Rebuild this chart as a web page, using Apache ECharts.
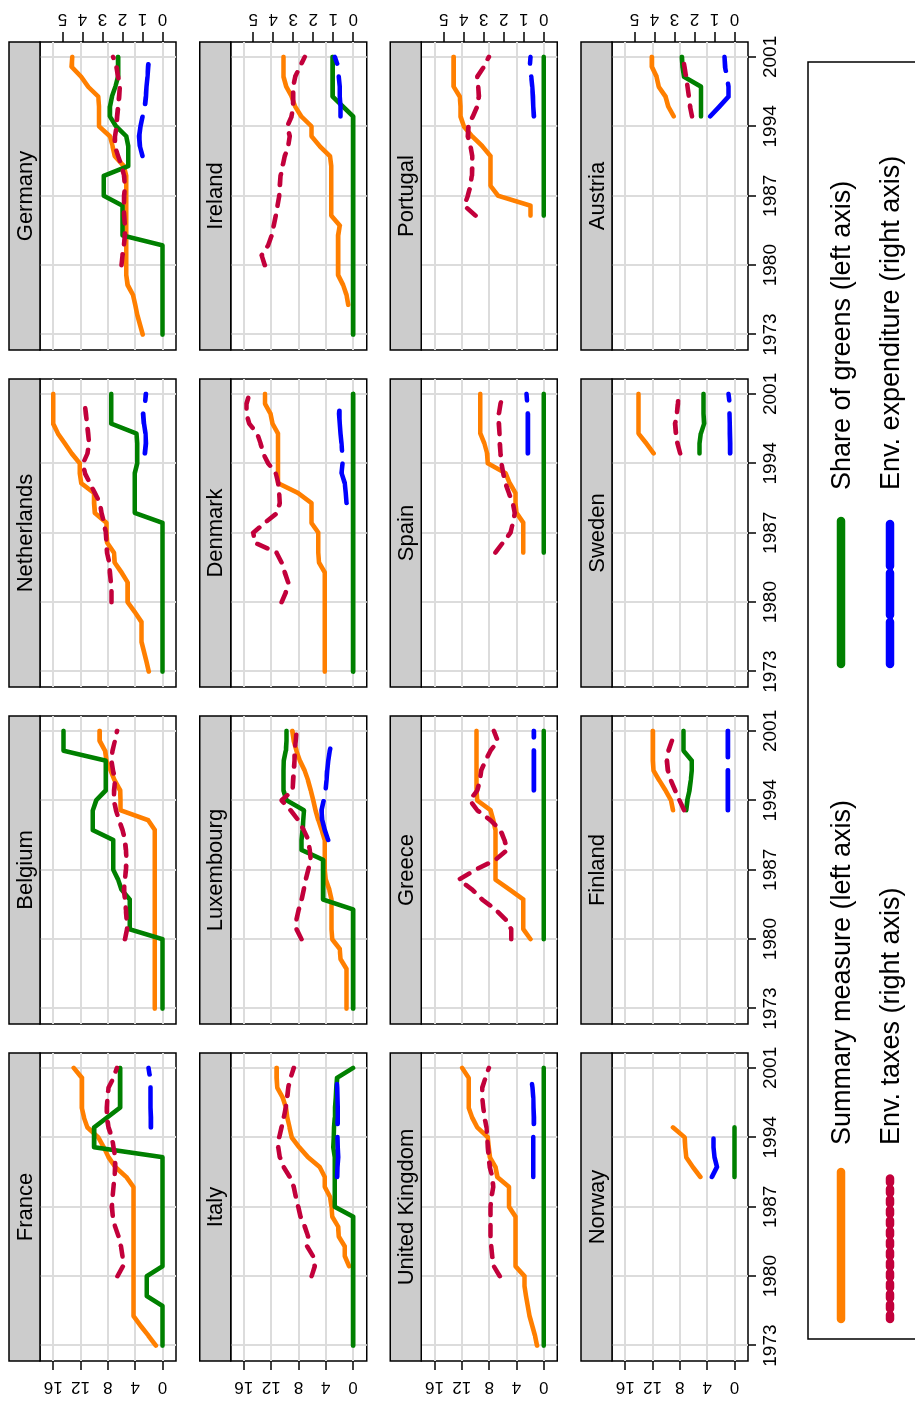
<!DOCTYPE html>
<html><head><meta charset="utf-8">
<script src="https://cdn.jsdelivr.net/npm/echarts@6/dist/echarts.min.js"></script>
<style>
html,body{margin:0;padding:0;width:915px;height:1401px;overflow:hidden;background:#fff}
#chart{position:absolute;left:0;top:0;width:1401px;height:915px;transform-origin:0 0;transform:translate(0px,1401px) rotate(-90deg);}
</style></head><body><div id="chart"></div>
<script>
const N = null;
const YEARS = [1973,1974,1975,1976,1977,1978,1979,1980,1981,1982,1983,1984,1985,1986,1987,1988,1989,1990,1991,1992,1993,1994,1995,1996,1997,1998,1999,2000,2001];
const YEAR_TICKS = [1973,1980,1987,1994,2001];
const LEFT_TICKS = [0,4,8,12,16];
const RIGHT_TICKS = [0,1,2,3,4,5];
const COUNTRIES = ['France','Belgium','Netherlands','Germany','Italy','Luxembourg','Denmark','Ireland','United Kingdom','Greece','Spain','Portugal','Norway','Finland','Sweden','Austria'];
const SERIES_NAMES = ['Summary measure (left axis)','Share of greens (left axis)','Env. taxes (right axis)','Env. expenditure (right axis)'];

// France
const fr_sum = [0.98,2.05,3.2,4.25,4.25,4.25,4.25,4.25,4.25,4.25,4.25,4.25,4.25,4.25,4.25,4.25,4.25,5.3,6.9,7.9,8.6,9.4,11.0,11.5,11.8,11.8,11.8,11.8,13.0];
const fr_grn = [0,0,0,0,0,2.3,2.3,2.3,0,0,0,0,0,0,0,0,0,0,0,0,10.0,10.0,10.0,8.1,6.2,6.2,6.2,6.2,6.2];
const fr_tax = [N,N,N,N,N,N,N,2.25,1.98,2.0,2.08,2.2,2.37,2.48,2.53,2.5,2.45,2.4,2.37,2.37,2.45,2.53,2.7,2.78,2.78,2.75,2.7,2.45,2.28];
const fr_exp = [N,N,N,N,N,N,N,N,N,N,N,N,N,N,N,N,N,N,N,N,N,N,0.58,0.58,0.6,0.6,0.6,0.62,0.7];
// Belgium
const be_sum = [1.12,1.12,1.12,1.12,1.12,1.12,1.12,1.12,1.12,1.12,1.12,1.12,1.12,1.12,1.12,1.12,1.12,1.12,1.12,2.1,6.15,6.15,6.2,7.0,7.6,8.2,8.4,9.2,9.2];
const be_grn = [0,0,0,0,0,0,0,0,4.8,4.8,4.8,4.8,6.0,6.5,7.2,7.2,7.2,7.2,10.2,10.2,10.2,9.7,8.3,8.3,8.3,8.3,14.5,14.5,14.5];
const be_tax = [N,N,N,N,N,N,N,1.88,1.77,1.8,1.83,1.88,1.93,1.88,1.83,1.8,1.83,1.88,2.0,2.17,2.33,2.43,2.42,2.38,2.47,2.55,2.5,2.38,2.27];
const be_exp = [N,N,N,N,N,N,N,N,N,N,N,N,N,N,N,N,N,N,N,N,N,N,N,N,N,N,N,N,N];
// Netherlands
const nl_sum = [2.0,2.34,2.7,3.07,3.07,3.07,4.05,5.1,5.1,5.1,6.0,7.0,7.1,8.1,8.2,8.2,9.9,10.0,10.0,11.9,12.1,12.1,13.3,14.3,15.3,16.0,16.0,16.0,16.0];
const nl_grn = [0,0,0,0,0,0,0,0,0,0,0,0,0,0,0,0,4.05,4.05,4.05,4.05,4.05,3.7,3.7,3.7,3.8,7.5,7.5,7.5,7.5];
const nl_tax = [N,N,N,N,N,N,N,2.55,2.55,2.58,2.63,2.67,2.77,2.8,2.83,2.93,3.05,3.13,3.38,3.63,3.88,3.97,3.75,3.67,3.72,3.77,3.83,3.88,N];
const nl_exp = [N,N,N,N,N,N,N,N,N,N,N,N,N,N,N,N,N,N,N,N,N,N,0.88,0.83,0.85,0.93,0.97,0.88,0.83];
// Germany
const de_sum = [2.9,3.3,3.7,4.0,4.3,5.1,5.3,5.3,5.3,5.3,5.3,5.3,5.3,5.3,5.3,5.3,5.3,5.66,7.0,7.3,7.7,9.3,9.3,9.3,9.4,10.9,11.9,13.3,13.2];
const de_grn = [0,0,0,0,0,0,0,0,0,0,5.85,5.85,5.85,5.85,8.6,8.6,8.6,5.0,5.0,5.0,5.3,6.8,7.7,7.7,7.4,6.9,6.5,6.5,6.5];
const de_tax = [N,N,N,N,N,N,N,2.05,2.0,1.93,1.88,1.88,1.92,1.93,1.92,1.88,1.92,2.05,2.22,2.38,2.38,2.3,2.27,2.22,2.17,2.13,2.22,2.3,2.47];
const de_exp = [N,N,N,N,N,N,N,N,N,N,N,N,N,N,N,N,N,N,1.0,1.13,1.17,1.1,1.0,0.88,0.83,0.8,0.75,0.72,0.67];
// Italy
const it_sum = [N,N,N,N,N,N,N,N,0.59,1.22,1.22,2.1,2.2,3.07,3.17,3.4,4.15,4.15,4.9,6.6,7.9,9.0,9.3,9.65,9.85,10.3,11.1,11.2,11.2];
const it_grn = [0,0,0,0,0,0,0,0,0,0,0,0,0,0,2.7,2.7,2.7,2.7,2.7,2.7,2.9,2.85,2.8,2.7,2.65,2.55,2.45,2.35,0];
const it_tax = [N,N,N,N,N,N,N,2.08,1.92,2.0,2.3,2.25,2.42,2.63,2.75,2.87,2.97,3.17,3.47,3.67,3.75,3.7,3.58,3.47,3.37,3.3,3.25,3.13,2.97];
const it_exp = [N,N,N,N,N,N,N,N,N,N,N,N,N,N,N,N,N,0.8,0.78,0.75,0.77,0.78,0.78,0.77,0.77,0.78,0.8,0.82,N];
// Luxembourg
const lu_sum = [0.98,0.98,0.98,0.98,0.98,1.85,1.95,3.07,3.17,3.17,3.17,3.17,3.5,4.0,4.15,4.15,4.15,4.15,4.6,5.1,5.5,5.85,6.2,6.6,7.1,7.8,8.3,8.7,8.9];
const lu_grn = [0,0,0,0,0,0,0,0,0,0,0,4.4,4.4,4.4,4.4,4.4,7.56,7.56,7.4,7.3,7.2,9.75,10.2,10.2,10.2,10.15,9.85,9.75,9.75];
const lu_tax = [N,N,N,N,N,N,N,2.58,2.83,2.83,2.72,2.58,2.47,2.37,2.25,2.13,2.17,2.25,2.47,2.75,3.13,3.58,3.03,3.0,2.97,2.93,2.92,2.87,2.83];
const lu_exp = [N,N,N,N,N,N,N,N,N,N,N,N,N,N,N,N,N,1.25,1.42,1.55,1.58,1.47,1.38,1.33,1.3,1.25,1.17,1.08,N];
// Denmark
const dk_sum = [4.15,4.15,4.15,4.15,4.15,4.15,4.15,4.15,4.15,4.15,4.15,5.0,5.1,5.1,5.1,6.1,6.1,6.1,8.05,11.0,11.0,11.0,11.0,11.0,11.0,11.8,12.1,12.9,12.9];
const dk_grn = [0,0,0,0,0,0,0,0,0,0,0,0,0,0,0,0,0,0,0,0,0,0,0,0,0,0,0,0,0];
const dk_tax = [N,N,N,N,N,N,N,3.58,3.37,3.25,3.42,3.58,3.83,4.92,5.0,4.42,3.8,3.67,3.7,3.75,3.87,4.25,4.5,4.63,4.8,5.2,5.33,5.33,5.2];
const dk_exp = [N,N,N,N,N,N,N,N,N,N,N,N,N,N,N,N,N,0.33,0.37,0.42,0.58,0.53,0.55,0.58,0.63,0.67,0.7,0.67,N];
// Ireland
const ie_sum = [N,N,N,0.73,0.98,1.46,2.2,2.2,2.2,2.2,2.2,1.95,3.2,3.2,3.2,3.2,3.2,3.2,3.4,4.9,6.1,6.1,7.6,8.5,9.0,9.8,10.2,10.2,10.2];
const ie_grn = [0,0,0,0,0,0,0,0,0,0,0,0,0,0,0,0,0,0,0,0,0,0,0,1.5,3.0,3.0,3.0,3.0,3.0];
const ie_tax = [N,N,N,N,N,N,N,4.42,4.58,4.25,4.08,3.97,3.87,3.78,3.7,3.67,3.63,3.53,3.42,3.25,3.17,3.3,3.08,3.0,3.0,3.0,2.9,2.67,2.42];
const ie_exp = [N,N,N,N,N,N,N,N,N,N,N,N,N,N,N,N,N,N,N,N,N,N,0.63,0.63,0.67,0.67,0.72,0.75,0.92];
// United Kingdom
const uk_sum = [0.98,1.3,1.7,2.1,2.34,2.6,2.83,2.83,4.15,4.15,4.15,4.15,4.15,4.15,5.1,5.1,5.1,6.8,7.07,7.9,8.05,8.2,9.75,10.5,11.0,11.0,11.0,11.0,11.95];
const uk_grn = [0,0,0,0,0,0,0,0,0,0,0,0,0,0,0,0,0,0,0,0,0,0,0,0,0,0,0,0,0];
const uk_tax = [N,N,N,N,N,N,N,2.2,2.5,2.58,2.63,2.67,2.67,2.67,2.67,2.62,2.53,2.58,2.7,2.75,2.8,2.83,2.87,2.97,3.03,3.08,3.08,2.92,2.75];
const uk_exp = [N,N,N,N,N,N,N,N,N,N,N,N,N,N,N,N,N,0.53,0.53,0.53,0.53,0.53,0.5,0.5,0.52,0.53,0.57,0.62,N];
// Greece
const gr_sum = [N,N,N,N,N,N,N,1.95,3.0,3.0,3.0,3.0,5.0,7.07,7.07,7.07,7.07,7.07,7.07,7.4,7.8,9.75,9.85,9.85,9.85,9.85,9.85,9.85,9.85];
const gr_grn = [N,N,N,N,N,N,N,0,0,0,0,0,0,0,0,0,0,0,0,0,0,0,0,0,0,0,0,0,0];
const gr_tax = [N,N,N,N,N,N,N,1.63,1.63,1.92,2.42,3.08,3.58,4.25,3.42,2.42,1.83,1.97,2.17,2.67,3.33,3.7,3.33,3.2,3.13,2.92,2.67,2.3,2.5];
const gr_exp = [N,N,N,N,N,N,N,N,N,N,N,N,N,N,N,N,N,N,N,N,N,N,0.5,0.5,0.5,0.5,0.5,0.5,0.5];
// Spain
const es_sum = [N,N,N,N,N,N,N,N,N,N,N,N,3.0,3.0,3.0,3.0,4.0,4.15,4.15,5.0,5.6,8.2,8.3,8.7,9.3,9.3,9.3,9.3,9.3];
const es_grn = [N,N,N,N,N,N,N,N,N,N,N,N,0,0,0,0,0,0,0,0,0,0,0,0,0,0,0,0,0];
const es_tax = [N,N,N,N,N,N,N,N,N,N,N,N,2.42,2.05,1.67,1.55,1.45,1.55,1.75,1.92,2.03,2.12,2.17,2.2,2.22,2.25,2.25,2.17,2.03];
const es_exp = [N,N,N,N,N,N,N,N,N,N,N,N,N,N,N,N,N,N,N,N,N,N,0.8,0.8,0.8,0.8,0.8,0.83,0.87];
// Portugal
const pt_sum = [N,N,N,N,N,N,N,N,N,N,N,N,1.95,1.95,6.7,7.8,7.8,7.8,7.8,9.0,10.5,11.7,12.2,12.2,12.3,13.2,13.2,13.2,13.2];
const pt_grn = [N,N,N,N,N,N,N,N,N,N,N,N,0,0,0,0,0,0,0,0,0,0,0,0,0,0,0,0,0];
const pt_tax = [N,N,N,N,N,N,N,N,N,N,N,N,3.42,3.97,3.8,3.67,3.6,3.58,3.58,3.67,3.8,3.77,3.55,3.33,3.25,3.28,3.33,3.0,2.75];
const pt_exp = [N,N,N,N,N,N,N,N,N,N,N,N,N,N,N,N,N,N,N,N,N,N,0.5,0.53,0.55,0.58,0.63,0.7,0.67];
// Norway
const no_sum = [N,N,N,N,N,N,N,N,N,N,N,N,N,N,N,N,N,5.0,6.1,7.07,7.2,7.3,9.0,N,N,N,N,N,N];
const no_grn = [N,N,N,N,N,N,N,N,N,N,N,N,N,N,N,N,N,0,0,0,0,0,0,N,N,N,N,N,N];
const no_tax = [N,N,N,N,N,N,N,N,N,N,N,N,N,N,N,N,N,N,N,N,N,N,N,N,N,N,N,N,N];
const no_exp = [N,N,N,N,N,N,N,N,N,N,N,N,N,N,N,N,N,1.13,0.88,1.0,1.05,1.05,1.05,N,N,N,N,N,N];
// Finland
const fi_sum = [N,N,N,N,N,N,N,N,N,N,N,N,N,N,N,N,N,N,N,N,9.0,9.3,10.1,11.0,11.85,11.95,11.95,11.95,11.95];
const fi_grn = [N,N,N,N,N,N,N,N,N,N,N,N,N,N,N,N,N,N,N,N,7.07,6.9,6.6,6.4,6.25,6.25,7.46,7.46,7.46];
const fi_tax = [N,N,N,N,N,N,N,N,N,N,N,N,N,N,N,N,N,N,N,N,2.52,2.75,2.97,3.18,3.33,3.38,3.3,3.13,N];
const fi_exp = [N,N,N,N,N,N,N,N,N,N,N,N,N,N,N,N,N,N,N,N,0.33,0.33,0.33,0.33,0.33,0.33,0.33,0.33,0.33];
// Sweden
const se_sum = [N,N,N,N,N,N,N,N,N,N,N,N,N,N,N,N,N,N,N,N,N,N,11.85,12.9,14.05,14.05,14.05,14.05,14.05];
const se_grn = [N,N,N,N,N,N,N,N,N,N,N,N,N,N,N,N,N,N,N,N,N,N,5.12,5.12,4.93,4.44,4.54,4.54,4.54];
const se_tax = [N,N,N,N,N,N,N,N,N,N,N,N,N,N,N,N,N,N,N,N,N,N,2.72,2.85,2.93,2.97,2.88,2.83,2.8];
const se_exp = [N,N,N,N,N,N,N,N,N,N,N,N,N,N,N,N,N,N,N,N,N,N,0.22,0.22,0.23,0.24,0.25,0.25,0.3];
// Austria
const at_sum = [N,N,N,N,N,N,N,N,N,N,N,N,N,N,N,N,N,N,N,N,N,N,8.9,9.7,10.1,11.1,11.4,12.1,12.1];
const at_grn = [N,N,N,N,N,N,N,N,N,N,N,N,N,N,N,N,N,N,N,N,N,N,4.9,4.9,4.9,4.9,7.4,7.6,7.7];
const at_tax = [N,N,N,N,N,N,N,N,N,N,N,N,N,N,N,N,N,N,N,N,N,N,2.13,2.22,2.28,2.35,2.42,2.5,2.58];
const at_exp = [N,N,N,N,N,N,N,N,N,N,N,N,N,N,N,N,N,N,N,N,N,N,1.22,0.75,0.3,0.3,0.38,0.47,0.5];

const PANEL_DATA = [
  [fr_sum,fr_grn,fr_tax,fr_exp],[be_sum,be_grn,be_tax,be_exp],[nl_sum,nl_grn,nl_tax,nl_exp],[de_sum,de_grn,de_tax,de_exp],
  [it_sum,it_grn,it_tax,it_exp],[lu_sum,lu_grn,lu_tax,lu_exp],[dk_sum,dk_grn,dk_tax,dk_exp],[ie_sum,ie_grn,ie_tax,ie_exp],
  [uk_sum,uk_grn,uk_tax,uk_exp],[gr_sum,gr_grn,gr_tax,gr_exp],[es_sum,es_grn,es_tax,es_exp],[pt_sum,pt_grn,pt_tax,pt_exp],
  [no_sum,no_grn,no_tax,no_exp],[fi_sum,fi_grn,fi_tax,fi_exp],[se_sum,se_grn,se_tax,se_exp],[at_sum,at_grn,at_tax,at_exp]
];

// ---- layout & style ----
const FONT = '"Liberation Sans", Arial, Helvetica, sans-serif';
const L = {colLeft0: 40, colPitch: 337, plotW: 308, rowTop0: 40, rowPitch: 190.67, plotH: 136, stripH: 31};
const X_MIN = 1971.45, X_MAX = 2002.5;
const YL_MIN = -1.98, YL_MAX = 17.93;
const YR_MIN = -0.675, YR_MAX = 6.125;
const GRID_COLOR = '#DCDCDC';
const COLORS = ['#FF7F00', '#008000', '#C2003B', '#0000FF'];
const DASHES = ['solid', 'solid', [11, 10], [40, 13]];
const LEGEND_DASHES = ['solid', 'solid', [4, 6.5], [42, 7]];

const option = {animation: false, backgroundColor: '#fff', grid: [], xAxis: [], yAxis: [], series: [], graphic: []};

COUNTRIES.forEach((name, i) => {
  const r = Math.floor(i / 4), c = i % 4;
  const left = L.colLeft0 + c * L.colPitch;
  const top = L.rowTop0 + r * L.rowPitch;
  option.grid.push({left: left, top: top, width: L.plotW, height: L.plotH, show: true,
    borderColor: '#000', borderWidth: 1.5, backgroundColor: '#fff', containLabel: false, outerBoundsMode: 'none'});
  option.xAxis.push({type: 'value', gridIndex: i, min: X_MIN, max: X_MAX,
    axisLine: {show: false, onZero: false},
    splitLine: {show: true, lineStyle: {color: GRID_COLOR, width: 2}},
    axisTick: {show: r === 3, customValues: YEAR_TICKS, length: 8, lineStyle: {color: '#000', width: 1.5}},
    axisLabel: {show: r === 3, customValues: YEAR_TICKS, formatter: v => String(v), fontSize: 19, fontFamily: FONT, color: '#000', margin: 13}});
  option.yAxis.push({type: 'value', gridIndex: i, position: 'left', min: YL_MIN, max: YL_MAX,
    axisLine: {show: false, onZero: false},
    splitLine: {show: true, lineStyle: {color: GRID_COLOR, width: 2}},
    axisTick: {show: c === 0, customValues: LEFT_TICKS, length: 9, lineStyle: {color: '#000', width: 1.5}},
    axisLabel: {show: c === 0, customValues: LEFT_TICKS, rotate: 90, fontSize: 17, fontFamily: FONT, color: '#000', margin: 17}});
  option.yAxis.push({type: 'value', gridIndex: i, position: 'right', min: YR_MIN, max: YR_MAX,
    axisLine: {show: false, onZero: false},
    splitLine: {show: false},
    axisTick: {show: c === 3, customValues: RIGHT_TICKS, length: 10, lineStyle: {color: '#000', width: 1.5}},
    axisLabel: {show: c === 3, customValues: RIGHT_TICKS, rotate: 90, fontSize: 17, fontFamily: FONT, color: '#000', margin: 15}});

  PANEL_DATA[i].forEach((arr, k) => {
    option.series.push({type: 'line', name: SERIES_NAMES[k], xAxisIndex: i, yAxisIndex: k < 2 ? 2 * i : 2 * i + 1,
      data: YEARS.map((y, j) => [y, arr[j]]), symbol: 'none', connectNulls: false, silent: true, z: 2 + k,
      lineStyle: {color: COLORS[k], width: 4.6, type: DASHES[k], cap: 'round', join: 'round'}});
  });

  // strip
  option.graphic.push({type: 'rect', z: 50, shape: {x: left, y: top - L.stripH, width: L.plotW, height: L.stripH},
    style: {fill: '#CCCCCC', stroke: '#000', lineWidth: 1.5}});
  option.graphic.push({type: 'text', z: 51, x: left + L.plotW / 2, y: top - L.stripH / 2 + 1,
    style: {text: name, fill: '#000', fontSize: 22, fontFamily: FONT, align: 'center', verticalAlign: 'middle', textAlign: 'center', textVerticalAlign: 'middle'}});
});

// legend (key)
const KEY = {boxX: 62, boxY: 808, boxW: 1277, boxH: 200, lineX: [82, 737], lineLen: [147, 143], textX: [256, 911], rowY: [841, 890], textDy: 2};
option.graphic.push({type: 'rect', z: 50, shape: {x: KEY.boxX, y: KEY.boxY, width: KEY.boxW, height: KEY.boxH},
  style: {fill: 'none', stroke: '#000', lineWidth: 1.5}});
SERIES_NAMES.forEach((nm, k) => {
  const row = k < 2 ? 0 : 1;
  const col = k % 2;
  const y = KEY.rowY[row];
  option.graphic.push({type: 'line', z: 51, shape: {x1: KEY.lineX[col], y1: y, x2: KEY.lineX[col] + KEY.lineLen[col], y2: y},
    style: {stroke: COLORS[k], lineWidth: 8.5, lineDash: LEGEND_DASHES[k] === 'solid' ? null : LEGEND_DASHES[k], lineCap: 'round'}});
  option.graphic.push({type: 'text', z: 51, x: KEY.textX[col], y: y + KEY.textDy,
    style: {text: nm, fill: '#000', fontSize: 27, fontFamily: FONT, align: 'left', verticalAlign: 'middle', textAlign: 'left', textVerticalAlign: 'middle'}});
});

const chart = echarts.init(document.getElementById('chart'), null, {renderer: 'canvas', width: 1401, height: 915});
chart.setOption(option);
</script></body></html>
